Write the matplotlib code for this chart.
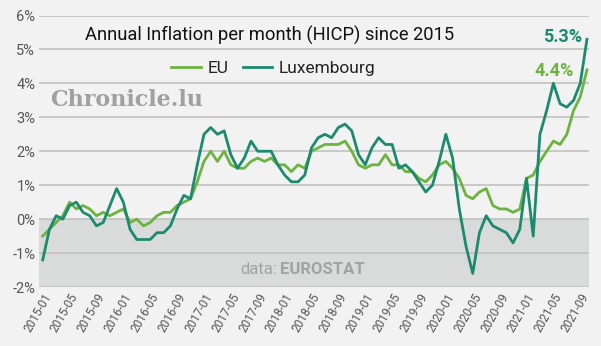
import matplotlib
matplotlib.use("Agg")
import matplotlib.pyplot as plt

# monthly HICP annual rate of change, 2015-01 .. 2021-10
eu = [-0.5, -0.3, -0.1, 0.1, 0.5, 0.3, 0.4, 0.3, 0.1, 0.2, 0.1, 0.2,
      0.3, -0.1, 0.0, -0.2, -0.1, 0.1, 0.2, 0.2, 0.4, 0.5, 0.6, 1.1,
      1.7, 2.0, 1.7, 2.0, 1.6, 1.5, 1.5, 1.7, 1.8, 1.7, 1.8, 1.6,
      1.6, 1.4, 1.6, 1.5, 2.0, 2.1, 2.2, 2.2, 2.2, 2.3, 2.0, 1.6,
      1.5, 1.6, 1.6, 1.9, 1.6, 1.6, 1.4, 1.4, 1.2, 1.1, 1.3, 1.6,
      1.7, 1.5, 1.2, 0.7, 0.6, 0.8, 0.9, 0.4, 0.3, 0.3, 0.2, 0.3,
      1.2, 1.3, 1.7, 2.0, 2.3, 2.2, 2.5, 3.2, 3.6, 4.4]
lux = [-1.2, -0.3, 0.1, 0.0, 0.4, 0.5, 0.2, 0.1, -0.2, -0.1, 0.4, 0.9,
       0.5, -0.3, -0.6, -0.6, -0.6, -0.4, -0.4, -0.2, 0.3, 0.7, 0.6, 1.6,
       2.5, 2.7, 2.5, 2.6, 1.9, 1.5, 1.8, 2.3, 2.0, 2.0, 2.0, 1.6,
       1.3, 1.1, 1.1, 1.3, 2.1, 2.4, 2.5, 2.4, 2.7, 2.8, 2.6, 1.9,
       1.6, 2.1, 2.4, 2.2, 2.2, 1.5, 1.6, 1.4, 1.1, 0.8, 1.0, 1.7,
       2.5, 1.8, 0.3, -0.8, -1.6, -0.4, 0.1, -0.2, -0.3, -0.4, -0.7, -0.3,
       1.2, -0.5, 2.5, 3.2, 4.0, 3.4, 3.3, 3.5, 4.0, 5.3]
months = [f"{2015 + k // 12}-{k % 12 + 1:02d}" for k in range(len(eu))]
tick_labels = months[::4]
y_ticks = [-2, -1, 0, 1, 2, 3, 4, 5, 6]

c_eu = "#6db33f"
c_lux = "#1b8a6f"
bg = "#f2f2f2"

plt.rcParams["font.family"] = ["Roboto", "DejaVu Sans"]

fig = plt.figure(figsize=(6.01, 3.46), dpi=100, facecolor=bg)
ax = fig.add_axes([0.0657, 0.1705, 0.9143, 0.7847], facecolor=bg)

x = list(range(len(eu)))
ax.axhspan(-2, 0, color="#d9dbda", zorder=0, lw=0)
for v in y_ticks:
    ax.axhline(v, color="#bdbdbd", lw=1.1, zorder=1)

ax.plot(x, eu, color=c_eu, lw=2.0, label="EU", zorder=3)
ax.plot(x, lux, color=c_lux, lw=2.0, label="Luxembourg", zorder=4)

ax.set_xlim(-0.48, 81.3)
ax.set_ylim(-2, 6)
ax.set_yticks(y_ticks)
ax.set_yticklabels([f"{v}%" for v in y_ticks], fontsize=10.5, color="#555555")
ax.set_xticks(x[::4])
ax.set_xticklabels(tick_labels, rotation=60, ha="right", rotation_mode="anchor",
                   fontsize=8.5, color="#555555")
ax.tick_params(length=0, pad=3)
for s in ax.spines.values():
    s.set_visible(False)

fig.text(0.449, 0.899, "Annual Inflation per month (HICP) since 2015",
         ha="center", va="center", fontsize=13.2, color="#111111")
fig.legend(loc="center", bbox_to_anchor=(0.455, 0.803), ncol=2, frameon=False,
           fontsize=12.5, handlelength=1.7, handletextpad=0.4, columnspacing=0.8,
           labelcolor="#222222")

fig.text(0.083, 0.711, "Chronicle.lu", ha="left", va="center", fontsize=16,
         fontweight="bold", family="DejaVu Serif", color="#a0a0a0")
fig.text(277 / 601, 0.22, "data:", ha="right", va="center", fontsize=12,
         color="#a3a3a3")
fig.text(280 / 601, 0.22, "EUROSTAT", ha="left", va="center", fontsize=12,
         fontweight="bold", color="#a3a3a3")

fig.text(582 / 601, 1 - 37 / 346, "5.3%", ha="right", va="center", fontsize=13,
         fontweight="bold", color=c_lux)
fig.text(574 / 601, 1 - 70.5 / 346, "4.4%", ha="right", va="center", fontsize=13,
         fontweight="bold", color=c_eu)

fig.savefig("out.png", dpi=100, facecolor=bg)
